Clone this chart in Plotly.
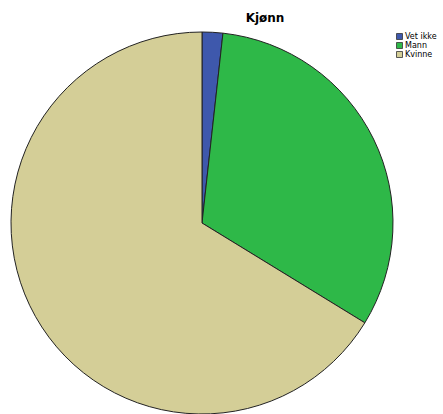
import plotly.graph_objects as go

labels = ["Vet ikke", "Mann", "Kvinne"]
values = [1.75, 32.0, 66.25]
colors = ["#3E58AC", "#2EB848", "#D4CE97"]

W, H = 443, 414
fig = go.Figure(go.Pie(
    labels=labels, values=values, sort=False, direction="clockwise", rotation=0,
    marker=dict(colors=colors, line=dict(color="#222222", width=1)),
    textinfo="none", hoverinfo="label+percent", showlegend=False,
    domain=dict(x=[11/W, 393/W], y=[0, 1-32/H]),
))

# compact legend (SPSS style) built from the data lists
for i, (lab, col) in enumerate(zip(labels, colors)):
    yc = 36.5 + 9 * i
    fig.add_shape(type="rect", xref="paper", yref="paper",
                  x0=396.5/W, x1=402.5/W, y0=1-(yc+3)/H, y1=1-(yc-3)/H,
                  fillcolor=col, line=dict(color="#333333", width=0.8))
    fig.add_annotation(text=lab, xref="paper", yref="paper", x=403.5/W, y=1-yc/H,
                       xanchor="left", yanchor="middle", showarrow=False, borderpad=0,
                       font=dict(family="DejaVu Sans", size=8, color="black"))

fig.update_layout(
    width=W, height=H, margin=dict(l=0, r=0, t=0, b=0),
    paper_bgcolor="white", plot_bgcolor="white",
    title=dict(text="<b>Kjønn</b>", x=265/W, xanchor="center", y=1-18/H, yanchor="middle",
               font=dict(family="DejaVu Sans", size=12, color="black")),
)
fig.write_html("out.html")
